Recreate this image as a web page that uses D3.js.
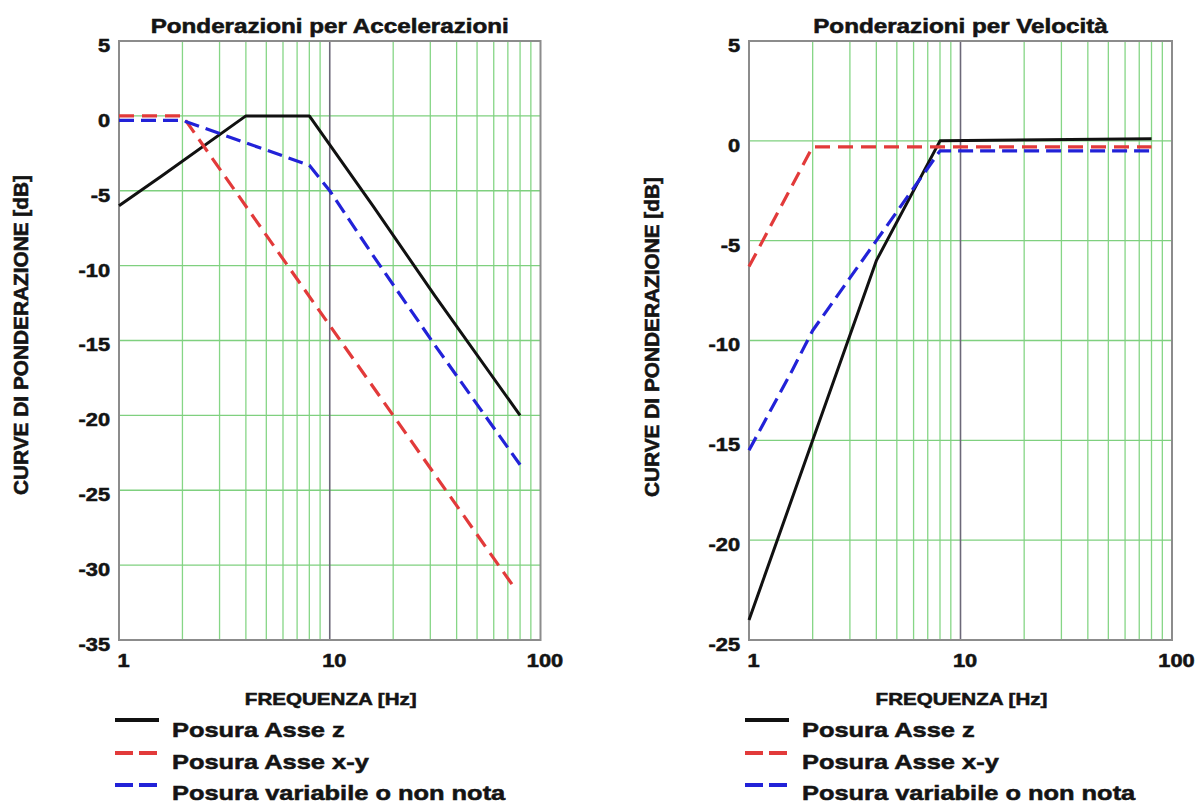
<!DOCTYPE html>
<html><head><meta charset="utf-8">
<script src="https://cdn.jsdelivr.net/npm/d3@7"></script>
<style>
body{margin:0;background:#fff}
text{font-family:"Liberation Sans",Arial,sans-serif;font-weight:bold;fill:#141414;stroke:#141414;stroke-width:0.55px}
</style>
</head><body><svg id="c" width="1197" height="805"></svg>
<script>
// ---- data ----
const freqTicks = [1, 10, 100];
const xTickLabels = ["1", "10", "100"];
const accYTicks = [5, 0, -5, -10, -15, -20, -25, -30, -35];
const velYTicks = [5, 0, -5, -10, -15, -20, -25];

const accZ_f  = [1, 1.6, 4, 8, 16, 31.5, 80];
const accZ_db = [-6, -4, 0, 0, -6, -12, -20];
const accXY_f  = [1, 2, 10, 20, 76];
const accXY_db = [0, 0, -14, -20, -31.6];
const accVar_f  = [1, 2, 4, 8, 10, 16, 31.5, 80];
const accVar_db = [-0.3, -0.3, -1.8, -3.3, -5, -9.3, -15.3, -23.3];

const velZ_f  = [1, 2, 4, 8, 80];
const velZ_db = [-24, -15, -6, 0, 0.1];
const velXY_f  = [1, 2, 80];
const velXY_db = [-6.3, -0.3, -0.3];
const velVar_f  = [1, 1.6, 2, 4, 8, 80];
const velVar_db = [-15.5, -11.5, -9.5, -5, -0.5, -0.5];

const seriesNames = ["Posura Asse z", "Posura Asse x-y", "Posura variabile o non nota"];
const titles = ["Ponderazioni per Accelerazioni", "Ponderazioni per Velocità"];
const xTitle = "FREQUENZA [Hz]";
const yTitle = "CURVE DI PONDERAZIONE [dB]";

// ---- styles ----
const styles = [
  {color: "#111111", dash: null, w: 3},
  {color: "#e23a3a", dash: "15,8", w: 3.2},
  {color: "#2222d8", dash: "15,7", w: 3.2}
];
const K = 1.21; // horizontal widening of the typeface

const svg = d3.select("#c");

function stretch(sel, k) {
  sel.each(function () {
    const w = this.getComputedTextLength();
    d3.select(this).attr("textLength", w * k).attr("lengthAdjust", "spacingAndGlyphs");
  });
}

function panel(cfg) {
  const x = d3.scaleLog().domain([1, 100]).range([cfg.x0, cfg.x1]);
  const y = d3.scaleLinear().domain([cfg.yTicks[cfg.yTicks.length - 1], cfg.yTicks[0]]).range([cfg.y1, cfg.y0]);
  const g = svg.append("g");

  // grid
  const minor = x.ticks().filter(d => !freqTicks.includes(d));
  g.selectAll(".vg").data(minor).join("line")
    .attr("x1", d => x(d)).attr("x2", d => x(d))
    .attr("y1", cfg.y0).attr("y2", cfg.y1)
    .attr("stroke", "#86d686").attr("stroke-width", 1.3);
  const hgrid = cfg.yTicks.slice(1, -1);
  g.selectAll(".hg").data(hgrid).join("line")
    .attr("x1", cfg.x0).attr("x2", cfg.x1)
    .attr("y1", d => y(d)).attr("y2", d => y(d))
    .attr("stroke", "#7fd07f").attr("stroke-width", 1.4);
  g.append("line")
    .attr("x1", x(10)).attr("x2", x(10)).attr("y1", cfg.y0).attr("y2", cfg.y1)
    .attr("stroke", "#6c6878").attr("stroke-width", 1.6);
  g.append("rect")
    .attr("x", cfg.x0).attr("y", cfg.y0)
    .attr("width", cfg.x1 - cfg.x0).attr("height", cfg.y1 - cfg.y0)
    .attr("fill", "none").attr("stroke", "#8c8c8c").attr("stroke-width", 2);

  // curves
  const line = d3.line().x(d => x(d[0])).y(d => y(d[1]));
  cfg.series.forEach((s, i) => {
    const pts = s.f.map((f, j) => [f, s.db[j]]);
    g.append("path").datum(pts).attr("d", line)
      .attr("fill", "none").attr("stroke", styles[i].color)
      .attr("stroke-width", styles[i].w)
      .attr("stroke-dasharray", styles[i].dash)
      .attr("stroke-linejoin", "round");
  });

  // axes
  const ax = g.append("g").attr("transform", `translate(0,${cfg.y1})`)
    .call(d3.axisBottom(x).tickValues(freqTicks).tickFormat((d, i) => xTickLabels[i]).tickSize(0));
  ax.select(".domain").remove();
  ax.selectAll("text").attr("y", 27).attr("dy", null).attr("dx", 4)
    .attr("font-size", 18).attr("font-family", null).style("fill", "#141414");
  stretch(ax.selectAll("text"), K);

  const ay = g.append("g").attr("transform", `translate(${cfg.x0},0)`)
    .call(d3.axisLeft(y).tickValues(cfg.yTicks).tickFormat(d => String(d)).tickSize(0).tickPadding(9));
  ay.select(".domain").remove();
  ay.selectAll("text").attr("y", 4).attr("dy", "0.36em")
    .attr("font-size", 18).attr("font-family", null).style("fill", "#141414");
  stretch(ay.selectAll("text"), K);

  // titles
  const cx = (cfg.x0 + cfg.x1) / 2;
  const t = g.append("text").attr("x", cx).attr("y", 33).attr("text-anchor", "middle")
    .attr("font-size", 20).text(cfg.title);
  stretch(t, K);
  const xt = g.append("text").attr("x", cx + 1).attr("y", 705).attr("text-anchor", "middle")
    .attr("font-size", 17).text(xTitle);
  stretch(xt, K);
  g.append("text").attr("transform", `translate(${cfg.ylx},${cfg.yly}) rotate(-90)`)
    .attr("text-anchor", "middle").attr("font-size", 19.5)
    .attr("textLength", 320).attr("lengthAdjust", "spacingAndGlyphs")
    .text(yTitle);

  // legend
  const lx = cfg.x0 - 4;
  const lineY = [720, 753, 785];
  const textY = [737, 769, 800];
  seriesNames.forEach((n, i) => {
    g.append("line").attr("x1", lx).attr("x2", lx + 44).attr("y1", lineY[i]).attr("y2", lineY[i])
      .attr("stroke", styles[i].color).attr("stroke-width", 3.8)
      .attr("stroke-dasharray", i === 0 ? null : "18,6");
    const tt = g.append("text").attr("x", lx + 57).attr("y", textY[i]).attr("font-size", 21).text(n);
    stretch(tt, K);
  });
}

panel({
  x0: 119, x1: 540.5, y0: 41, y1: 640, yTicks: accYTicks, title: titles[0],
  ylx: 28, yly: 335,
  series: [{f: accZ_f, db: accZ_db}, {f: accXY_f, db: accXY_db}, {f: accVar_f, db: accVar_db}]
});
panel({
  x0: 749, x1: 1172, y0: 41, y1: 640, yTicks: velYTicks, title: titles[1],
  ylx: 659, yly: 337,
  series: [{f: velZ_f, db: velZ_db}, {f: velXY_f, db: velXY_db}, {f: velVar_f, db: velVar_db}]
});
</script>
</body></html>
